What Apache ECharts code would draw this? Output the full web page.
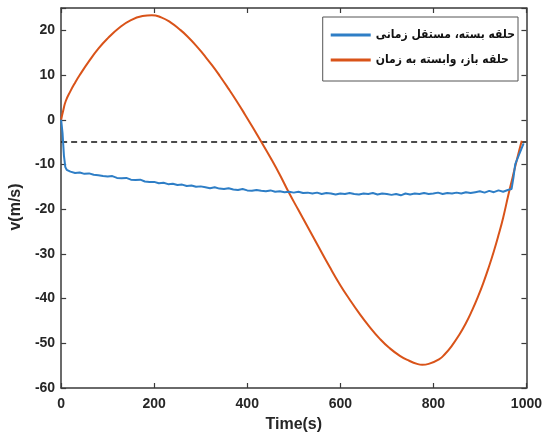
<!DOCTYPE html>
<html>
<head>
<meta charset="utf-8">
<script src="https://cdn.jsdelivr.net/npm/echarts@6/dist/echarts.min.js"></script>
<style>
html,body{margin:0;padding:0;background:#fff;}
#chart{width:545px;height:438px;}
</style>
</head>
<body>
<div id="chart"></div>
<script>
// Series names (legend)
const seriesNames = ['حلقه بسته، مستقل زمانی', 'حلقه باز، وابسته به زمان'];

// Closed loop (blue): time (s) and velocity (m/s)
const blueTime = [0,3,6,9,12,20,30,40,50,60,70,80,90,100,110,120,130,140,150,160,170,180,190,200,
  210,220,230,240,250,260,270,280,290,300,310,320,330,340,350,360,370,380,390,400,410,420,430,440,450,
  460,470,480,490,500,510,520,530,540,550,560,570,580,590,600,610,620,630,640,650,660,670,680,690,700,
  710,720,730,740,750,760,770,780,790,800,810,820,830,840,850,860,870,880,890,900,910,920,930,940,950,
  960,968,972,976,985,994];
const blueVel = [0,-3,-8,-10.6,-11.2,-11.6,-11.9,-11.8,-12.1,-12.0,-12.3,-12.4,-12.6,-12.7,-12.6,-13.0,-13.1,-13.0,-13.4,-13.5,-13.4,-13.8,-13.9,-13.9,
  -14.2,-14.1,-14.4,-14.3,-14.6,-14.5,-14.8,-14.7,-15.0,-14.9,-15.1,-15.3,-15.1,-15.4,-15.5,-15.3,-15.6,-15.7,-15.5,-15.8,-15.9,-15.7,-15.9,-16.0,-15.8,
  -16.1,-16.0,-16.2,-16.1,-16.3,-16.1,-16.4,-16.3,-16.5,-16.3,-16.6,-16.4,-16.5,-16.7,-16.5,-16.6,-16.4,-16.6,-16.7,-16.5,-16.6,-16.4,-16.7,-16.5,-16.6,
  -16.8,-16.6,-16.9,-16.5,-16.7,-16.5,-16.6,-16.4,-16.6,-16.5,-16.3,-16.6,-16.4,-16.5,-16.3,-16.5,-16.2,-16.4,-16.2,-16.0,-16.3,-15.9,-16.2,-15.8,-16.1,
  -15.7,-15.5,-13,-9.9,-7.6,-5.3];

// Open loop (orange): time (s) and velocity (m/s)
const orangeTime = [0,5,10,20,30,40,60,80,100,125,150,175,195,215,235,255,271,290,306,325,341,360,377,395,413,431,
  450,470,488,510,530,550,577,600,620,640,662,685,705,728,748,765,776,790,812,825,840,855,869,883,897,908,919,930,940,950,961,970,980,990];
const orangeVel = [0,2.3,4.2,6.4,8.3,10.0,13.1,15.9,18.2,20.6,22.3,23.2,23.4,22.9,21.8,20.2,18.7,16.6,14.6,12.1,9.8,6.9,4.2,1.2,-1.9,-5.1,
  -8.5,-12.3,-16.0,-20.2,-24.0,-27.8,-32.9,-37.0,-40.2,-43.2,-46.2,-49.0,-51.0,-52.8,-53.9,-54.6,-54.8,-54.6,-53.6,-52.4,-50.5,-48.2,-45.7,-42.7,-39.3,-36.3,-33.0,-29.4,-25.8,-21.9,-16.9,-13.0,-8.7,-4.7];

// Reference dashed line
const refTime = [0, 1000];
const refVel = [-5, -5];

// Axis ticks
const xTicks = [0, 200, 400, 600, 800, 1000];
const yTicks = [-60, -50, -40, -30, -20, -10, 0, 10, 20];

const zip = (a, b) => a.map((v, i) => [v, b[i]]);

const axisColor = '#3a3a3a';
const labelStyle = { color: '#262626', fontFamily: 'Liberation Sans, Arial, sans-serif', fontWeight: 'bold', fontSize: 14 };
const tickStyle = { show: true, inside: true, length: 5, lineStyle: { color: axisColor, width: 1.2 } };
const lineAxis = { show: true, onZero: false, lineStyle: { color: axisColor, width: 1.5 } };

const chart = echarts.init(document.getElementById('chart'), null, { renderer: 'canvas' });
chart.setOption({
  animation: false,
  backgroundColor: '#ffffff',
  grid: { left: 60, right: 17, top: 8, bottom: 50, show: false },
  legend: {
    data: seriesNames,
    orient: 'vertical',
    right: 27,
    top: 17,
    padding: [10, 3, 13, 8],
    itemGap: 9,
    itemWidth: 40,
    itemHeight: 3,
    icon: 'rect',
    borderColor: '#555',
    borderWidth: 1,
    backgroundColor: '#fff',
    textStyle: { fontFamily: 'DejaVu Sans Condensed, DejaVu Sans', fontWeight: 'bold', fontSize: 12, lineHeight: 16, color: '#111' }
  },
  xAxis: [{
    type: 'value', min: 0, max: 1000, interval: 200,
    name: 'Time(s)', nameLocation: 'middle', nameGap: 29,
    nameTextStyle: { color: '#262626', fontFamily: 'Liberation Sans, Arial, sans-serif', fontWeight: 'bold', fontSize: 16 },
    axisLine: lineAxis,
    axisTick: tickStyle,
    axisLabel: Object.assign({ margin: 9, formatter: v => xTicks.includes(v) ? String(v) : '' }, labelStyle),
    splitLine: { show: false }
  }, {
    type: 'value', min: 0, max: 1000, interval: 200, position: 'top',
    axisLine: lineAxis,
    axisTick: tickStyle,
    axisLabel: { show: false },
    splitLine: { show: false }
  }],
  yAxis: [{
    type: 'value', min: -60, max: 25, interval: 10,
    name: 'v(m/s)', nameLocation: 'middle', nameGap: 32, nameRotate: 90,
    nameTextStyle: { color: '#262626', fontFamily: 'Liberation Sans, Arial, sans-serif', fontWeight: 'bold', fontSize: 16, padding: [0, 0, 0, -18] },
    axisLine: lineAxis,
    axisTick: tickStyle,
    axisLabel: Object.assign({ margin: 6, formatter: v => yTicks.includes(v) ? String(v) : '' }, labelStyle),
    splitLine: { show: false }
  }, {
    type: 'value', min: -60, max: 25, interval: 10, position: 'right',
    axisLine: lineAxis,
    axisTick: tickStyle,
    axisLabel: { show: false },
    splitLine: { show: false }
  }],
  series: [
    {
      name: 'ref', type: 'line', data: zip(refTime, refVel), showSymbol: false, silent: true,
      lineStyle: { color: '#111', width: 1.5, type: [6, 4] }, z: 1
    },
    {
      name: seriesNames[1], type: 'line', data: zip(orangeTime, orangeVel), showSymbol: false, smooth: 0.5,
      itemStyle: { color: '#D95319' }, lineStyle: { color: '#D95319', width: 2 }, z: 2
    },
    {
      name: seriesNames[0], type: 'line', data: zip(blueTime, blueVel), showSymbol: false,
      itemStyle: { color: '#2E7EC6' }, lineStyle: { color: '#2E7EC6', width: 2 }, z: 3
    }
  ]
});
</script>
</body>
</html>
